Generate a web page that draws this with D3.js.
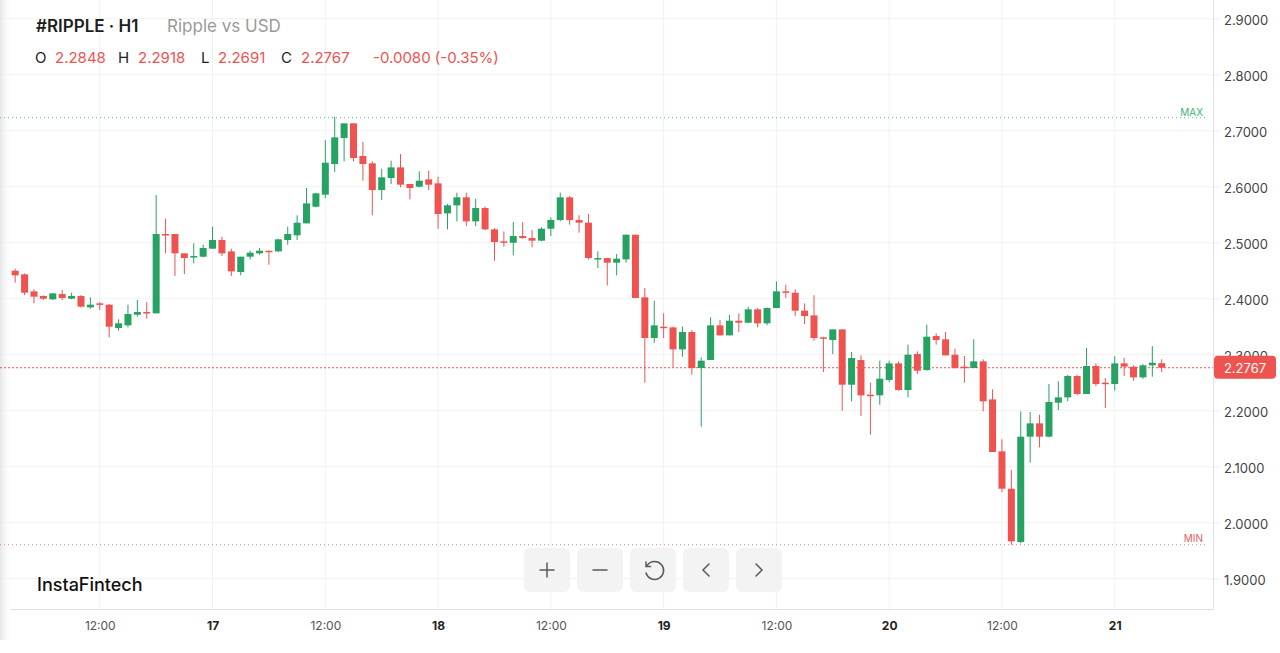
<!DOCTYPE html>
<html>
<head>
	<meta charset="utf-8">
	<title>#RIPPLE · H1</title>
	<script src="https://d3js.org/d3.v7.min.js"></script>
	<style>
		body { margin: 0; background: #fff; }
		text { font-family: Inter, "Noto Sans", sans-serif; }
	</style>
</head>
<body>
	<div class="chart"></div>

	<script type="text/javascript">
		// hourly candles, 16th 03:00 -> 21st 05:00
		const startHour = Date.UTC(2025, 2, 16, 3)
		const opens = [2.4500, 2.4435, 2.4131, 2.4048, 2.3988, 2.4083, 2.4000, 2.4048, 2.3845, 2.3917,
			2.3893, 2.3476, 2.3524, 2.3714, 2.3762, 2.3738, 2.5155, 2.5155, 2.4810, 2.4738,
			2.4750, 2.4893, 2.5048, 2.4845, 2.4476, 2.4750, 2.4810, 2.4857, 2.4845, 2.5048,
			2.5131, 2.5345, 2.5643, 2.5857, 2.6405, 2.6869, 2.7131, 2.6548, 2.6417, 2.5940,
			2.6155, 2.6345, 2.6048, 2.6000, 2.6131, 2.6060, 2.5524, 2.5667, 2.5810, 2.5381,
			2.5619, 2.5238, 2.5024, 2.5000, 2.5119, 2.5083, 2.5036, 2.5250, 2.5405, 2.5810,
			2.5405, 2.5357, 2.4702, 2.4726, 2.4643, 2.4702, 2.5143, 2.4024, 2.3298, 2.3500,
			2.3488, 2.3095, 2.3405, 2.2762, 2.2905, 2.3524, 2.3345, 2.3607, 2.3571, 2.3810,
			2.3560, 2.3833, 2.4131, 2.4107, 2.3786, 2.3702, 2.3310, 2.3262, 2.3452, 2.2464,
			2.2905, 2.2286, 2.2274, 2.2548, 2.2845, 2.2369, 2.3012, 2.2726, 2.3333, 2.3274,
			2.3000, 2.2786, 2.2762, 2.2881, 2.2202, 2.1274, 2.0607, 1.9655, 2.1536, 2.1774,
			2.1536, 2.2143, 2.2238, 2.2619, 2.2298, 2.2798, 2.2500, 2.2476, 2.2845, 2.2786,
			2.2595, 2.2810, 2.2848]
		const highs = [2.4536, 2.4452, 2.4167, 2.4060, 2.4100, 2.4155, 2.4107, 2.4065, 2.4024, 2.3940,
			2.3905, 2.3631, 2.3893, 2.3976, 2.3940, 2.5851, 2.5429, 2.5155, 2.4810, 2.4988,
			2.4964, 2.5286, 2.5107, 2.4893, 2.4750, 2.4857, 2.4905, 2.4857, 2.5071, 2.5286,
			2.5488, 2.5976, 2.5893, 2.6833, 2.7250, 2.7131, 2.7131, 2.6798, 2.6452, 2.6321,
			2.6464, 2.6583, 2.6048, 2.6274, 2.6286, 2.6179, 2.5690, 2.5893, 2.5893, 2.5786,
			2.5643, 2.5262, 2.5202, 2.5369, 2.5369, 2.5226, 2.5274, 2.5452, 2.5893, 2.5833,
			2.5488, 2.5512, 2.4845, 2.4726, 2.4798, 2.5143, 2.5143, 2.4190, 2.3964, 2.3738,
			2.3500, 2.3500, 2.3440, 2.2952, 2.3667, 2.3619, 2.3714, 2.3738, 2.3857, 2.3833,
			2.3845, 2.4310, 2.4250, 2.4167, 2.3917, 2.4060, 2.3321, 2.3452, 2.3452, 2.3048,
			2.2988, 2.2500, 2.2893, 2.2893, 2.2881, 2.3179, 2.3060, 2.3536, 2.3381, 2.3405,
			2.3107, 2.2976, 2.3274, 2.2917, 2.2381, 2.1488, 2.0940, 2.1988, 2.1976, 2.1929,
			2.2476, 2.2524, 2.2643, 2.2643, 2.3119, 2.2845, 2.2583, 2.2976, 2.2940, 2.2810,
			2.2833, 2.3155, 2.2918]
		const lows = [2.4286, 2.4065, 2.3917, 2.3976, 2.3980, 2.3976, 2.3988, 2.3845, 2.3821, 2.3798,
			2.3310, 2.3429, 2.3488, 2.3679, 2.3643, 2.3738, 2.4810, 2.4405, 2.4440, 2.4631,
			2.4738, 2.4893, 2.4762, 2.4405, 2.4417, 2.4702, 2.4786, 2.4607, 2.4833, 2.4964,
			2.5048, 2.5345, 2.5631, 2.5798, 2.6262, 2.6452, 2.6452, 2.6107, 2.5488, 2.5762,
			2.6048, 2.5988, 2.5774, 2.5988, 2.5940, 2.5250, 2.5238, 2.5381, 2.5298, 2.5298,
			2.5226, 2.4679, 2.4929, 2.4774, 2.5071, 2.4917, 2.5024, 2.5119, 2.5381, 2.5321,
			2.5179, 2.4702, 2.4548, 2.4238, 2.4417, 2.4643, 2.4012, 2.2500, 2.3214, 2.3298,
			2.2762, 2.2964, 2.2643, 2.1714, 2.2905, 2.3345, 2.3345, 2.3405, 2.3560, 2.3488,
			2.3524, 2.3833, 2.4012, 2.3690, 2.3548, 2.3250, 2.2690, 2.3012, 2.2000, 2.2167,
			2.1905, 2.1571, 2.2107, 2.2512, 2.2357, 2.2238, 2.2655, 2.2714, 2.3179, 2.2988,
			2.2750, 2.2500, 2.2762, 2.1988, 2.1262, 2.0548, 1.9607, 1.9631, 2.1071, 2.1345,
			2.1524, 2.2012, 2.2167, 2.2274, 2.2298, 2.2440, 2.2048, 2.2357, 2.2619, 2.2536,
			2.2571, 2.2607, 2.2691]
		const closes = [2.4417, 2.4107, 2.4036, 2.4000, 2.4095, 2.4012, 2.4048, 2.3857, 2.3893, 2.3893,
			2.3500, 2.3560, 2.3726, 2.3762, 2.3738, 2.5155, 2.5131, 2.4810, 2.4726, 2.4762,
			2.4905, 2.5048, 2.4810, 2.4488, 2.4750, 2.4821, 2.4857, 2.4833, 2.5060, 2.5155,
			2.5357, 2.5702, 2.5881, 2.6429, 2.6881, 2.7131, 2.6512, 2.6405, 2.5940, 2.6167,
			2.6345, 2.6036, 2.5976, 2.6107, 2.6036, 2.5512, 2.5667, 2.5810, 2.5381, 2.5619,
			2.5238, 2.5012, 2.5000, 2.5119, 2.5083, 2.5036, 2.5250, 2.5405, 2.5810, 2.5405,
			2.5357, 2.4726, 2.4726, 2.4643, 2.4714, 2.5143, 2.4012, 2.3298, 2.3524, 2.3476,
			2.3095, 2.3405, 2.2762, 2.2893, 2.3524, 2.3345, 2.3607, 2.3571, 2.3810, 2.3560,
			2.3833, 2.4131, 2.4107, 2.3786, 2.3690, 2.3298, 2.3286, 2.3452, 2.2464, 2.2940,
			2.2274, 2.2262, 2.2571, 2.2845, 2.2369, 2.3000, 2.2714, 2.3321, 2.3262, 2.2988,
			2.2762, 2.2762, 2.2881, 2.2167, 2.1262, 2.0607, 1.9667, 2.1536, 2.1774, 2.1536,
			2.2155, 2.2238, 2.2619, 2.2298, 2.2798, 2.2476, 2.2476, 2.2845, 2.2786, 2.2595,
			2.2810, 2.2857, 2.2767]

		const yTicks = [1.9, 2.0, 2.1, 2.2, 2.3, 2.4, 2.5, 2.6, 2.7, 2.8, 2.9]
		const maxPrice = 2.7250
		const minPrice = 1.9607
		const lastPrice = 2.2767
		const lastChange = '-0.0080'
		const lastChangePct = '-0.35%'

		const width = 1280
		const height = 653
		const plotRight = 1213
		const plotBottom = 609
		const green = '#26a263'
		const red = '#ef5350'

		const data = opens.map((o, i) => ({
			date: new Date(startHour + i * 3600e3),
			open: o, high: highs[i], low: lows[i], close: closes[i]
		}))

		const svg = d3.select('.chart').append('svg')
			.attr('width', width)
			.attr('height', height)

		// light shading on the left edge
		const defs = svg.append('defs')
		const grad = defs.append('linearGradient').attr('id', 'edge')
		grad.append('stop').attr('offset', 0).attr('stop-color', '#e6e6e6')
		grad.append('stop').attr('offset', 1).attr('stop-color', '#fff').attr('stop-opacity', 0)
		defs.append('clipPath').attr('id', 'plot')
			.append('rect').attr('x', 0).attr('y', 0).attr('width', plotRight).attr('height', plotBottom)

		const xScale = d3.scaleUtc()
			.domain([new Date(Date.UTC(2025, 2, 16, 0)), new Date(Date.UTC(2025, 2, 21, 12))])
			.range([-13, 1227.5])

		const yScale = d3.scaleLinear()
			.domain([1.9, 2.9])
			.range([578.7, 18.7])

		const xTicks = d3.utcHour.every(12).range(xScale.domain()[0], xScale.domain()[1])
			.filter(d => xScale(d) > 0 && xScale(d) < plotRight)

		// grid
		const grid = svg.append('g')
		grid.selectAll('.hgrid').data(yTicks).join('line')
			.attr('x1', 0).attr('x2', plotRight)
			.attr('y1', d => yScale(d)).attr('y2', d => yScale(d))
			.attr('stroke', '#f1f1f1')
		grid.selectAll('.vgrid').data(xTicks).join('line')
			.attr('x1', d => xScale(d)).attr('x2', d => xScale(d))
			.attr('y1', 0).attr('y2', plotBottom)
			.attr('stroke', '#f1f1f1')

		svg.append('rect')
			.attr('x', 0).attr('y', 0).attr('width', 12).attr('height', 640)
			.attr('fill', 'url(#edge)')

		// max / min / last price lines
		const guides = svg.append('g')
		guides.append('line')
			.attr('x1', 0).attr('x2', 1207)
			.attr('y1', yScale(maxPrice) + 1).attr('y2', yScale(maxPrice) + 1)
			.attr('stroke', '#5fbf8a').attr('stroke-dasharray', '1,3')
		guides.append('text')
			.attr('x', 1203).attr('y', yScale(maxPrice) - 1)
			.attr('text-anchor', 'end').attr('font-size', 10)
			.attr('fill', '#3fb27a').text('MAX')
		guides.append('line')
			.attr('x1', 0).attr('x2', 1207)
			.attr('y1', yScale(minPrice)).attr('y2', yScale(minPrice))
			.attr('stroke', '#ee8080').attr('stroke-dasharray', '1,3')
		guides.append('text')
			.attr('x', 1203).attr('y', yScale(minPrice) - 3)
			.attr('text-anchor', 'end').attr('font-size', 10)
			.attr('fill', '#e86060').text('MIN')
		guides.append('line')
			.attr('x1', 0).attr('x2', plotRight)
			.attr('y1', yScale(lastPrice)).attr('y2', yScale(lastPrice))
			.attr('stroke', red).attr('stroke-dasharray', '2,2')

		// candles
		const candles = svg.append('g').attr('clip-path', 'url(#plot)')
			.selectAll('g').data(data).join('g')
		candles.append('line')
			.attr('x1', d => xScale(d.date)).attr('x2', d => xScale(d.date))
			.attr('y1', d => yScale(d.high)).attr('y2', d => yScale(d.low))
			.attr('stroke', d => d.close >= d.open ? green : red)
			.attr('stroke-width', 1)
		candles.append('rect')
			.attr('x', d => xScale(d.date) - 3.5)
			.attr('width', 7)
			.attr('y', d => yScale(Math.max(d.open, d.close)))
			.attr('height', d => Math.max(1.5, Math.abs(yScale(d.open) - yScale(d.close))))
			.attr('fill', d => d.close >= d.open ? green : red)

		// axes
		svg.append('line')
			.attr('x1', plotRight + 0.5).attr('x2', plotRight + 0.5)
			.attr('y1', 0).attr('y2', plotBottom)
			.attr('stroke', '#e0e0e0')
		svg.append('line')
			.attr('x1', 10).attr('x2', plotRight + 0.5)
			.attr('y1', plotBottom + 0.5).attr('y2', plotBottom + 0.5)
			.attr('stroke', '#e0e0e0')

		const yAxis = d3.axisRight(yScale)
			.tickValues(yTicks)
			.tickFormat(d3.format('.4f'))
			.tickSize(6)
			.tickPadding(4)
		const yg = svg.append('g')
			.attr('transform', `translate(${plotRight + 1}, 0)`)
			.call(yAxis)
		yg.select('.domain').remove()
		yg.selectAll('.tick line').attr('stroke', '#eaeaea')
		yg.selectAll('.tick text')
			.attr('font-family', '"DejaVu Sans", sans-serif')
			.attr('font-size', 13)
			.attr('fill', '#444')
			.attr('dy', '0.45em')

		const xAxis = d3.axisBottom(xScale)
			.tickValues(xTicks)
			.tickFormat(d => d.getUTCHours() === 0 ? d3.utcFormat('%-d')(d) : d3.utcFormat('%H:%M')(d))
			.tickSize(0)
			.tickPadding(12)
		const xg = svg.append('g')
			.attr('transform', `translate(0, ${plotBottom})`)
			.call(xAxis)
		xg.select('.domain').remove()
		xg.selectAll('.tick text')
			.attr('font-family', '"DejaVu Sans", sans-serif')
			.attr('font-size', 12)
			.attr('fill', d => d.getUTCHours() === 0 ? '#222' : '#555')
			.attr('font-weight', d => d.getUTCHours() === 0 ? 'bold' : 'normal')

		// last price label (covers the 2.3000 tick, as in the terminal)
		svg.append('rect')
			.attr('x', plotRight + 1).attr('y', yScale(lastPrice) - 12)
			.attr('width', 62).attr('height', 23).attr('rx', 4)
			.attr('fill', red)
		svg.append('text')
			.attr('x', plotRight + 32).attr('y', yScale(lastPrice) + 5)
			.attr('text-anchor', 'middle')
			.attr('font-family', '"DejaVu Sans", sans-serif')
			.attr('font-size', 13)
			.attr('fill', '#fff')
			.text(d3.format('.4f')(lastPrice))

		// header
		const header = svg.append('g')
		header.append('text')
			.attr('x', 36).attr('y', 32)
			.attr('font-size', 17).attr('font-weight', 600).attr('fill', '#1d1d1d')
			.text('#RIPPLE · H1')
		header.append('text')
			.attr('x', 167).attr('y', 32)
			.attr('font-size', 17).attr('fill', '#9a9a9a')
			.text('Ripple vs USD')

		const last = data[data.length - 1]
		const fmt = d3.format('.4f')
		const ohlc = [
			{ x: 35, t: 'O', c: '#1d1d1d' }, { x: 55, t: fmt(last.open), c: red },
			{ x: 118, t: 'H', c: '#1d1d1d' }, { x: 138, t: fmt(last.high), c: red },
			{ x: 201, t: 'L', c: '#1d1d1d' }, { x: 218, t: fmt(last.low), c: red },
			{ x: 281, t: 'C', c: '#1d1d1d' }, { x: 301, t: fmt(last.close), c: red },
			{ x: 373, t: `${lastChange} (${lastChangePct})`, c: red }
		]
		header.selectAll('.ohlc').data(ohlc).join('text')
			.attr('x', d => d.x).attr('y', 63)
			.attr('font-size', 15)
			.attr('fill', d => d.c)
			.text(d => d.t)

		// logo
		svg.append('text')
			.attr('x', 37).attr('y', 591)
			.attr('font-size', 18).attr('font-weight', 500).attr('fill', '#111')
			.text('InstaFintech')

		// zoom / pan buttons
		const buttons = ['plus', 'minus', 'reset', 'left', 'right']
		const btn = svg.append('g').selectAll('g').data(buttons).join('g')
			.attr('transform', (d, i) => `translate(${524 + i * 53}, 548)`)
		btn.append('rect')
			.attr('width', 46).attr('height', 44).attr('rx', 6)
			.attr('fill', '#f2f2f2').attr('fill-opacity', 0.92)
		const icon = {
			plus: 'M16,22 H30 M23,15 V29',
			minus: 'M16,22 H30',
			reset: 'M17.5,17 A9,9 0 1 1 16,25 M16,14 V18.5 H20.5',
			left: 'M26,16 L20,22 L26,28',
			right: 'M20,16 L26,22 L20,28'
		}
		btn.append('path')
			.attr('d', d => icon[d])
			.attr('fill', 'none')
			.attr('stroke', '#5a5a5a')
			.attr('stroke-width', 1.5)
			.attr('stroke-linecap', 'round')
	</script>
</body>
</html>
